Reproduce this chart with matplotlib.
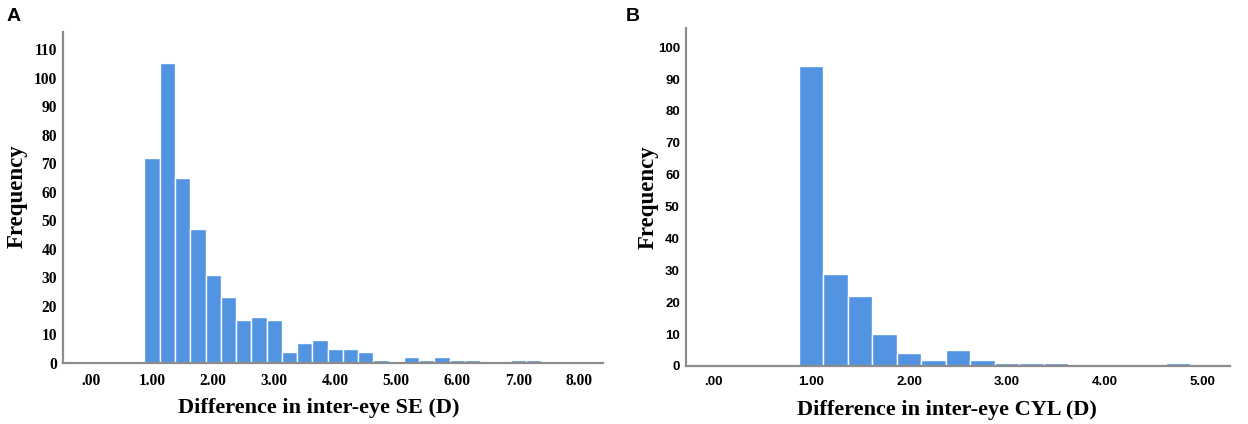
import matplotlib
matplotlib.use("Agg")
import matplotlib.pyplot as plt
import numpy as np

# bin centres (D) and counts, bins are 0.25 D wide
se_centers = [1.00, 1.25, 1.50, 1.75, 2.00, 2.25, 2.50, 2.75, 3.00, 3.25, 3.50, 3.75,
              4.00, 4.25, 4.50, 4.75, 5.00, 5.25, 5.50, 5.75, 6.00, 6.25, 6.50, 6.75,
              7.00, 7.25]
se_counts = [72, 105, 65, 47, 31, 23, 15, 16, 15, 4, 7, 8,
             5, 5, 4, 1, 0, 2, 1, 2, 1, 1, 0, 0,
             1, 1]

cyl_centers = [1.00, 1.25, 1.50, 1.75, 2.00, 2.25, 2.50, 2.75, 3.00, 3.25, 3.50,
               3.75, 4.00, 4.25, 4.50, 4.75]
cyl_counts = [94, 29, 22, 10, 4, 2, 5, 2, 1, 1, 1,
              0, 0, 0, 0, 1]

se_xticks = [0, 1, 2, 3, 4, 5, 6, 7, 8]
se_yticks = [0, 10, 20, 30, 40, 50, 60, 70, 80, 90, 100, 110]
cyl_xticks = [0, 1, 2, 3, 4, 5]
cyl_yticks = [0, 10, 20, 30, 40, 50, 60, 70, 80, 90, 100]

bar_color = "#5294e2"
axis_color = "#8c8c8c"
serif = ["Liberation Serif", "DejaVu Serif"]
sans = ["Liberation Sans", "DejaVu Sans"]


def fmt(v):
    # SPSS style: .00, 1.00, 2.00 ...
    s = f"{v:.2f}"
    return s[1:] if s.startswith("0") else s


fig = plt.figure(figsize=(12.48, 4.24), dpi=100)
axA = fig.add_axes([0.0505, 0.1439, 0.4327, 0.7807])
axB = fig.add_axes([0.5497, 0.1368, 0.4359, 0.7970])

panels = [
    (axA, se_centers, se_counts, se_xticks, se_yticks, (-0.46, 8.39), (0, 116),
     "Difference in inter-eye SE (D)", serif, 11.2, (-0.085, 0.504), (0.474, -0.135)),
    (axB, cyl_centers, cyl_counts, cyl_xticks, cyl_yticks, (-0.28, 5.28), (0, 106),
     "Difference in inter-eye CYL (D)", sans, 9.5, (-0.07, 0.5), (0.48, -0.13)),
]

for ax, cx, cy, xt, yt, xl, yl, xlab, tick_fam, tick_size, ypos, xpos in panels:
    ax.bar(cx, cy, width=0.25, color=bar_color, edgecolor="white", linewidth=1.0,
           align="center", zorder=2)
    ax.set_xlim(*xl)
    ax.set_ylim(*yl)
    for side in ["top", "right"]:
        ax.spines[side].set_visible(False)
    for side in ["left", "bottom"]:
        ax.spines[side].set_color(axis_color)
        ax.spines[side].set_linewidth(1.6)
    ax.set_xticks(xt)
    ax.set_xticklabels([fmt(v) for v in xt])
    ax.set_yticks(yt)
    ax.tick_params(axis="both", length=0)
    ax.tick_params(axis="y", pad=4.5)
    ax.tick_params(axis="x", pad=7)
    for lab in ax.get_xticklabels() + ax.get_yticklabels():
        lab.set_family(tick_fam)
        lab.set_fontweight("bold")
        lab.set_fontsize(tick_size)
    ax.set_ylabel("Frequency", family=serif, fontweight="bold", fontsize=16.5)
    ax.yaxis.set_label_coords(*ypos)
    ax.yaxis.label.set_va("center")
    ax.set_xlabel(xlab, family=serif, fontweight="bold", fontsize=16)
    ax.xaxis.set_label_coords(*xpos)
    ax.xaxis.label.set_va("center")

fig.text(0.0055, 0.962, "A", family=sans, fontweight="bold", fontsize=14,
         ha="left", va="center")
fig.text(0.5015, 0.962, "B", family=sans, fontweight="bold", fontsize=14,
         ha="left", va="center")

fig.savefig("out.png", dpi=100)
